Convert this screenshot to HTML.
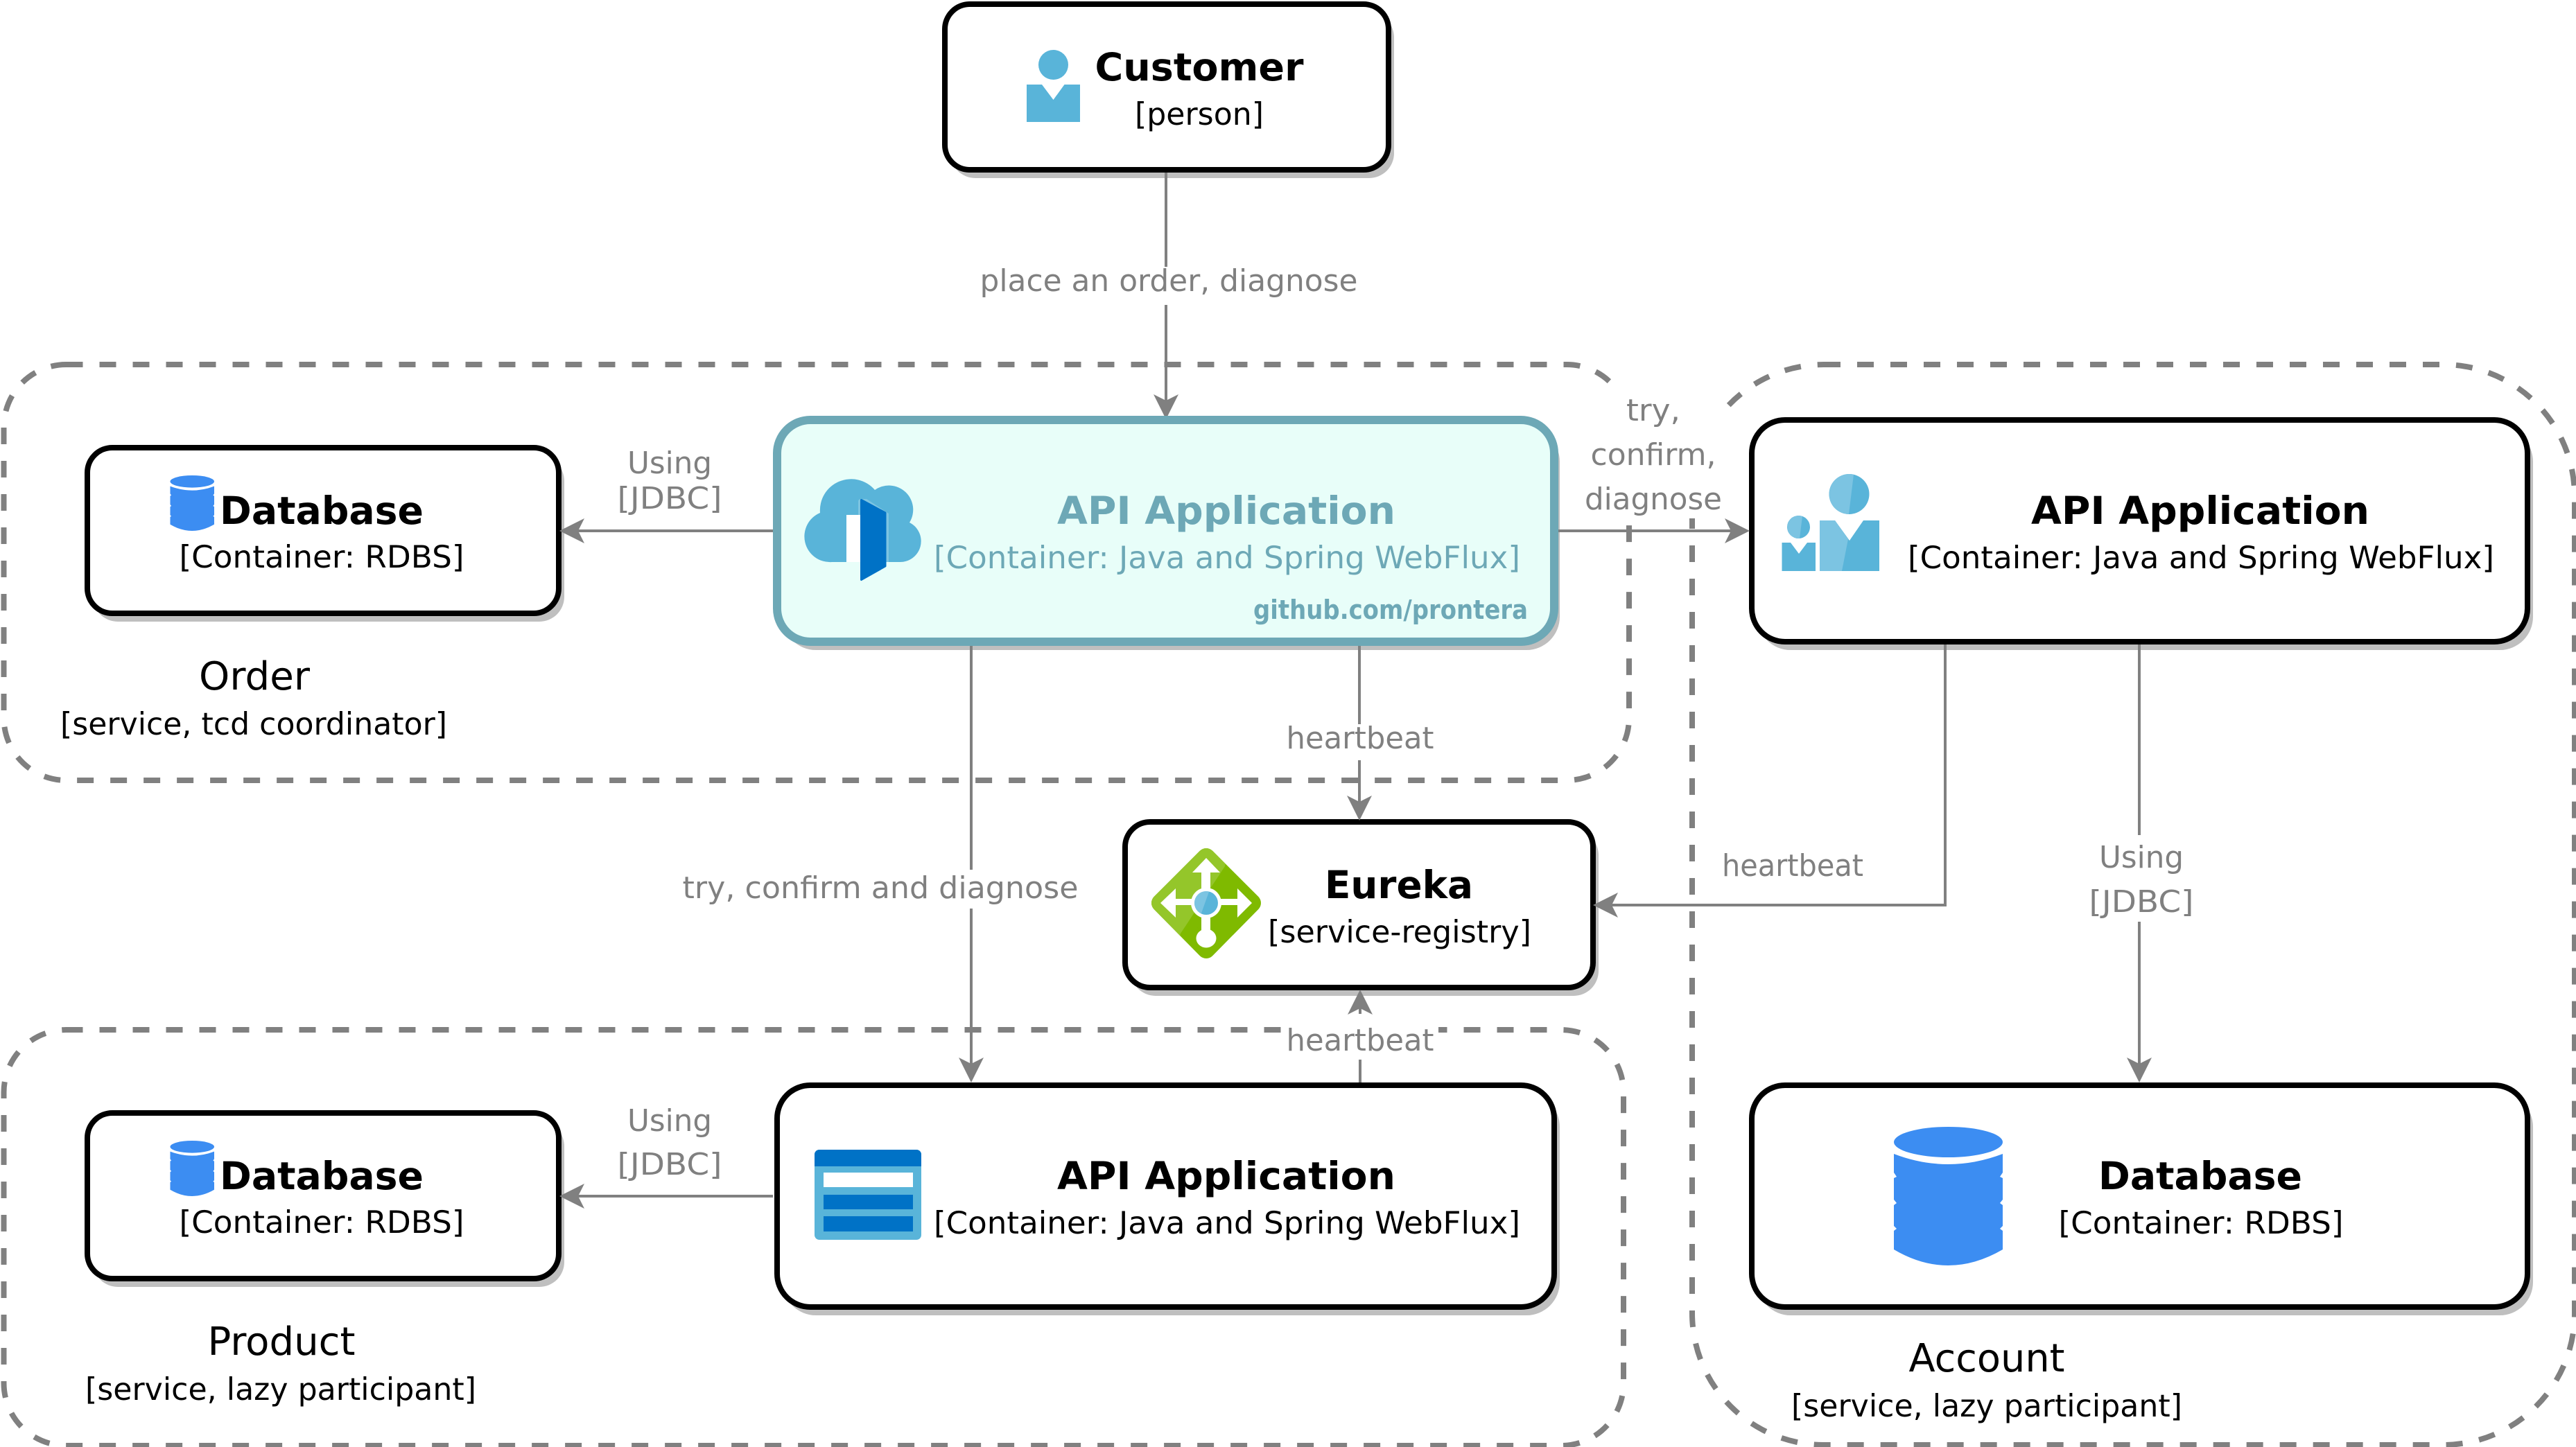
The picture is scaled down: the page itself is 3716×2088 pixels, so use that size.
<!DOCTYPE html>
<html><head><meta charset="utf-8"><style>
html,body{margin:0;padding:0;background:#fff}
svg{display:block}
text{font-family:"DejaVu Sans","Liberation Sans",sans-serif;text-anchor:middle}
.t{font-size:55px;font-weight:bold;fill:#000}
.s{font-size:44.5px;fill:#000}
.g{font-size:56px;fill:#000}
.l{font-size:44px;fill:#808080}
.c{fill:#6da8b6 !important}
.ln{stroke:#808080;stroke-width:4;fill:none}
.dash{fill:none;stroke:#808080;stroke-width:8;stroke-dasharray:24 24}
.ar{fill:#808080}
.box{fill:#fff;stroke:#000;stroke-width:8}
.sh{fill:#bfbfbf}
</style></head><body>
<svg xmlns="http://www.w3.org/2000/svg" width="3716" height="2088" viewBox="0 0 3716 2088">
<defs>
<symbol id="db" viewBox="0 0 157 200" preserveAspectRatio="none">
<ellipse cx="78.5" cy="22" rx="78.5" ry="22" fill="#3c8df2"/>
<path fill="#3c8df2" d="M0,39 Q78,69 157,39 V66 L153,72 L157,74 V105 L153,110 L157,113 V143 L153,147 L157,150 V177 Q78,223 0,177 V150 L4,147 L0,143 V113 L4,110 L0,105 V74 L4,72 L0,66 Z"/>
</symbol>
<clipPath id="eul"><polygon points="1640,1200 1775,1200 1767,1250 1703,1347 1690,1400 1640,1400"/></clipPath>
<clipPath id="cl"><polygon points="1700,1270 1750,1270 1725,1340 1700,1340"/></clipPath>
</defs>

<!-- groups -->
<rect class="dash" x="5.5" y="526" width="2344.5" height="600" rx="90" ry="90"/>
<rect class="dash" x="5.5" y="1486" width="2336.5" height="600" rx="90" ry="90"/>
<rect class="dash" x="2441" y="526" width="1273" height="1559" rx="190" ry="190"/>

<!-- shadows -->
<rect class="sh" x="1371" y="18" width="640" height="239" rx="36"/>
<rect class="sh" x="134" y="658" width="680" height="239" rx="36"/>
<rect class="sh" x="1129" y="618" width="1121" height="320" rx="48"/>
<rect class="sh" x="2535" y="618" width="1119" height="320" rx="48"/>
<rect class="sh" x="1631" y="1198" width="675" height="239" rx="36"/>
<rect class="sh" x="134" y="1618" width="680" height="239" rx="36"/>
<rect class="sh" x="1129" y="1578" width="1121" height="320" rx="48"/>
<rect class="sh" x="2535" y="1578" width="1119" height="320" rx="48"/>

<!-- connector lines -->
<path class="ln" d="M1682,249V578"/>
<path class="ln" d="M1115,766H834"/>
<path class="ln" d="M2248,766H2505"/>
<path class="ln" d="M1961,932V1165"/>
<path class="ln" d="M1401,932V1545"/>
<path class="ln" d="M1962,1562V1450"/>
<path class="ln" d="M2806,929V1306H2320"/>
<path class="ln" d="M3086,930V1545"/>
<path class="ln" d="M1115,1726H834"/>

<!-- label backgrounds -->
<rect x="1405" y="385" width="565" height="55" fill="#fff"/>
<rect x="2288" y="565" width="202" height="183" fill="#fff"/>
<rect x="1850" y="1045" width="225" height="52" fill="#fff"/>
<rect x="980" y="1255" width="590" height="56" fill="#fff"/>
<rect x="1850" y="1463" width="225" height="66" fill="#fff"/>
<rect x="3005" y="1205" width="170" height="125" fill="#fff"/>

<path class="ar" d="M1682,605l-18,-36l18,9l18,-9z"/>

<!-- boxes -->
<rect class="box" x="1363" y="6" width="640" height="239" rx="36"/>
<rect class="box" x="126" y="646" width="680" height="239" rx="36"/>
<rect x="1121" y="606" width="1121" height="320" rx="48" fill="#e8fef9" stroke="#6da8b6" stroke-width="12"/>
<rect class="box" x="2527" y="606" width="1119" height="320" rx="48"/>
<rect class="box" x="1623" y="1186" width="675" height="239" rx="36"/>
<rect class="box" x="126" y="1606" width="680" height="239" rx="36"/>
<rect class="box" x="1121" y="1566" width="1121" height="320" rx="48"/>
<rect class="box" x="2527" y="1566" width="1119" height="320" rx="48"/>

<!-- arrowheads -->
<path class="ar" d="M807,766l36,-18l-9,18l9,18z"/>
<path class="ar" d="M2524,766l-36,-18l9,18l-9,18z"/>
<path class="ar" d="M1961,1184l-18,-36l18,9l18,-9z"/>
<path class="ar" d="M1401,1562l-18,-36l18,9l18,-9z"/>
<path class="ar" d="M1962,1428l-18,36l18,-9l18,9z"/>
<path class="ar" d="M2298,1306l36,-18l-9,18l9,18z"/>
<path class="ar" d="M3086,1562l-18,-36l18,9l18,-9z"/>
<path class="ar" d="M807,1726l36,-18l-9,18l9,18z"/>

<!-- customer icon -->
<ellipse cx="1519.5" cy="93.5" rx="21.5" ry="21.5" fill="#59b4d9"/>
<path fill="#59b4d9" d="M1481,122H1503L1519.5,144L1535.5,122H1558V176H1481Z"/>

<!-- database icons -->
<use href="#db" x="245.5" y="686" width="63.5" height="80"/>
<use href="#db" x="245.5" y="1646" width="63.5" height="80"/>
<use href="#db" x="2732" y="1626" width="157" height="200"/>

<!-- cloud icon -->
<path fill="#59b4d9" d="M1200,811A37,37 0 0 1 1183,740A45,45 0 0 1 1262,707A35,35 0 0 1 1312,754A30.1,30.1 0 0 1 1297,811Z"/>
<rect x="1221" y="743" width="21" height="68" fill="#fff"/>
<path fill="#7cc4e2" d="M1238,743V724q0,-4 4,-4H1250L1282,741V811H1242V743Z"/>
<path fill="#0072c6" stroke="#0072c6" stroke-width="3" stroke-linejoin="round" d="M1242.5,721.5L1277,740V817L1242.5,836.5Z"/>

<!-- users icon -->
<circle cx="2667.5" cy="713" r="29" fill="#59b4d9"/>
<path fill="#7cc4e2" d="M2674,684.7A29,29 0 1 0 2667,742Z"/>
<path fill="#59b4d9" d="M2625,751H2647L2668,780L2688,751H2711V824H2625Z"/>
<path fill="#7cc4e2" d="M2625,751H2647L2666,778L2657,824H2625Z"/>
<circle cx="2594.5" cy="760.5" r="16.5" fill="#59b4d9"/>
<path fill="#7cc4e2" d="M2600,744.9A16.5,16.5 0 1 0 2596,777Z"/>
<path fill="#59b4d9" d="M2570.5,783H2583L2595,799L2607,783H2619V824H2570.5Z"/>

<!-- eureka icon -->
<polygon points="1740,1237 1806,1303 1740,1370 1674,1303" fill="#7fba00" stroke="#7fba00" stroke-width="26" stroke-linejoin="round"/>
<polygon points="1740,1237 1806,1303 1740,1370 1674,1303" fill="#94c62a" stroke="#94c62a" stroke-width="26" stroke-linejoin="round" clip-path="url(#eul)"/>
<g fill="#fff">
<path d="M1740,1238L1760,1259H1746V1345H1733V1259H1720Z"/>
<path d="M1674,1303L1696,1282V1297H1785V1282L1806,1303L1785,1324V1306H1696V1324Z"/>
<circle cx="1740" cy="1303" r="22"/>
<ellipse cx="1740" cy="1354" rx="14.5" ry="13.5"/>
</g>
<circle cx="1740" cy="1303" r="17" fill="#59b4d9"/>
<circle cx="1740" cy="1303" r="17" fill="#7cc4e2" clip-path="url(#cl)"/>

<!-- table icon -->
<rect x="1175" y="1659" width="154" height="130" rx="7" fill="#59b4d9"/>
<path fill="#0072c6" d="M1182,1659H1322a7,7 0 0 1 7,7V1683H1175V1666a7,7 0 0 1 7,-7Z"/>
<rect x="1188" y="1692" width="129" height="21" fill="#fff"/>
<rect x="1188" y="1724" width="129" height="21" fill="#0072c6"/>
<rect x="1188" y="1755" width="129" height="22" fill="#0072c6"/>

<!-- node text -->
<text class="t" x="1730" y="116" textLength="301" lengthAdjust="spacingAndGlyphs">Customer</text>
<text class="s" x="1730" y="180" textLength="186" lengthAdjust="spacingAndGlyphs">[person]</text>

<text class="t" x="464" y="756" textLength="294" lengthAdjust="spacingAndGlyphs">Database</text>
<text class="s" x="464" y="819" textLength="411" lengthAdjust="spacingAndGlyphs">[Container: RDBS]</text>
<text class="g" x="367" y="995" textLength="160" lengthAdjust="spacingAndGlyphs">Order</text>
<text class="s" x="366" y="1060" textLength="558" lengthAdjust="spacingAndGlyphs">[service, tcd coordinator]</text>

<text class="t c" x="1769" y="756" textLength="488" lengthAdjust="spacingAndGlyphs">API Application</text>
<text class="s c" x="1770" y="820" textLength="846" lengthAdjust="spacingAndGlyphs">[Container: Java and Spring WebFlux]</text>
<text class="c" x="2006" y="893" font-size="38" font-weight="bold" textLength="396" lengthAdjust="spacingAndGlyphs">github.com/prontera</text>

<text class="t" x="3174" y="756" textLength="488" lengthAdjust="spacingAndGlyphs">API Application</text>
<text class="s" x="3175" y="820" textLength="846" lengthAdjust="spacingAndGlyphs">[Container: Java and Spring WebFlux]</text>

<text class="t" x="2018" y="1296" textLength="214" lengthAdjust="spacingAndGlyphs">Eureka</text>
<text class="s" x="2019" y="1360" textLength="380" lengthAdjust="spacingAndGlyphs">[service-registry]</text>

<text class="t" x="464" y="1716" textLength="294" lengthAdjust="spacingAndGlyphs">Database</text>
<text class="s" x="464" y="1779" textLength="411" lengthAdjust="spacingAndGlyphs">[Container: RDBS]</text>
<text class="g" x="406" y="1955" textLength="213" lengthAdjust="spacingAndGlyphs">Product</text>
<text class="s" x="405" y="2020" textLength="564" lengthAdjust="spacingAndGlyphs">[service, lazy participant]</text>

<text class="t" x="1769" y="1716" textLength="488" lengthAdjust="spacingAndGlyphs">API Application</text>
<text class="s" x="1770" y="1780" textLength="846" lengthAdjust="spacingAndGlyphs">[Container: Java and Spring WebFlux]</text>

<text class="t" x="3174" y="1716" textLength="294" lengthAdjust="spacingAndGlyphs">Database</text>
<text class="s" x="3175" y="1780" textLength="411" lengthAdjust="spacingAndGlyphs">[Container: RDBS]</text>
<text class="g" x="2866" y="1979" textLength="225" lengthAdjust="spacingAndGlyphs">Account</text>
<text class="s" x="2866" y="2044" textLength="564" lengthAdjust="spacingAndGlyphs">[service, lazy participant]</text>

<!-- edge labels -->
<text class="l" x="1686" y="420" textLength="545" lengthAdjust="spacingAndGlyphs">place an order, diagnose</text>
<text class="l" x="966" y="683" textLength="122" lengthAdjust="spacingAndGlyphs">Using</text>
<text class="l" x="966" y="734" textLength="151" lengthAdjust="spacingAndGlyphs">[JDBC]</text>
<text class="l" x="2385" y="607" textLength="78" lengthAdjust="spacingAndGlyphs">try,</text>
<text class="l" x="2385" y="671" textLength="181" lengthAdjust="spacingAndGlyphs">confirm,</text>
<text class="l" x="2385" y="735" textLength="198" lengthAdjust="spacingAndGlyphs">diagnose</text>
<text class="l" x="1962" y="1080" textLength="213" lengthAdjust="spacingAndGlyphs">heartbeat</text>
<text class="l" x="1270" y="1296" textLength="571" lengthAdjust="spacingAndGlyphs">try, confirm and diagnose</text>
<text class="l" x="1962" y="1516" textLength="213" lengthAdjust="spacingAndGlyphs">heartbeat</text>
<text class="l" x="2586" y="1264" textLength="204" lengthAdjust="spacingAndGlyphs">heartbeat</text>
<text class="l" x="3089" y="1252" textLength="122" lengthAdjust="spacingAndGlyphs">Using</text>
<text class="l" x="3089" y="1316" textLength="151" lengthAdjust="spacingAndGlyphs">[JDBC]</text>
<text class="l" x="966" y="1632" textLength="122" lengthAdjust="spacingAndGlyphs">Using</text>
<text class="l" x="966" y="1695" textLength="151" lengthAdjust="spacingAndGlyphs">[JDBC]</text>
</svg>
</body></html>
